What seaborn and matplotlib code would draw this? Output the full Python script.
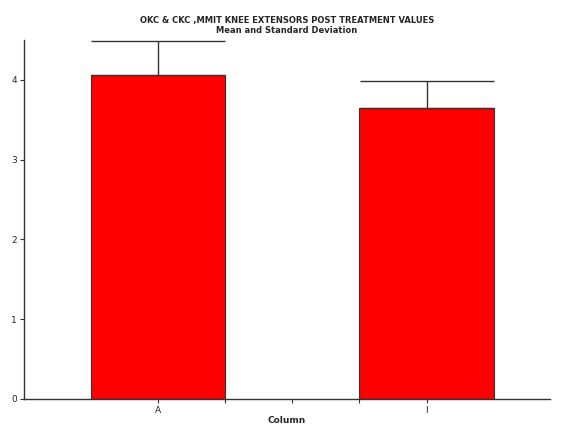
import matplotlib
matplotlib.use('Agg')
import matplotlib.pyplot as plt
import seaborn as sns
import pandas as pd
import numpy as np

# Data
groups = ['A', 'I']
means = [4.06, 3.65]
sds = [0.43, 0.34]

title = 'OKC & CKC ,MMIT KNEE EXTENSORS POST TREATMENT VALUES\nMean and Standard Deviation'

sns.set_theme(style="white")
plt.rcParams['font.family'] = ['DejaVu Sans']

df = pd.DataFrame({'group': groups, 'mean': means, 'sd': sds})

fig = plt.figure(figsize=(5.61, 4.29), dpi=100)
ax = fig.add_axes([24 / 561, 1 - 399 / 429, (550 - 24) / 561, (399 - 40) / 429])

sns.barplot(data=df, x='group', y='mean', color='#ff0000', saturation=1,
            width=0.5, edgecolor='#333333', linewidth=0.8, errorbar=None, ax=ax)

# upper-only SD bars, caps as wide as the bars
ax.errorbar(np.arange(len(groups)), df['mean'], yerr=[np.zeros(len(groups)), df['sd']],
            fmt='none', ecolor='#333333', elinewidth=1.0, capsize=48, capthick=1.0)

ax.set_xlim(-0.5, 1.46)
ax.set_ylim(0, 4.5)
ax.set_yticks([0, 1, 2, 3, 4])
ax.set_xticks([0, 1])
ax.set_xticklabels(groups)
ax.set_xticks([0.25, 0.5, 0.75], minor=True)

for side in ['top', 'right']:
    ax.spines[side].set_visible(False)
for side in ['left', 'bottom']:
    ax.spines[side].set_color('#333333')
    ax.spines[side].set_linewidth(1.0)

ax.tick_params(axis='both', which='both', direction='out', length=3, width=0.8,
               color='#333333', labelsize=6.5, bottom=True, left=True)
ax.tick_params(axis='x', pad=2)
ax.tick_params(axis='y', pad=2)

ax.set_xlabel('Column', fontsize=6.5, labelpad=1, fontweight='bold')
ax.set_ylabel('')
ax.set_title(title, fontsize=6, linespacing=1.1, pad=5, fontweight='bold')

plt.savefig('out.png', dpi=100)
plt.close()
